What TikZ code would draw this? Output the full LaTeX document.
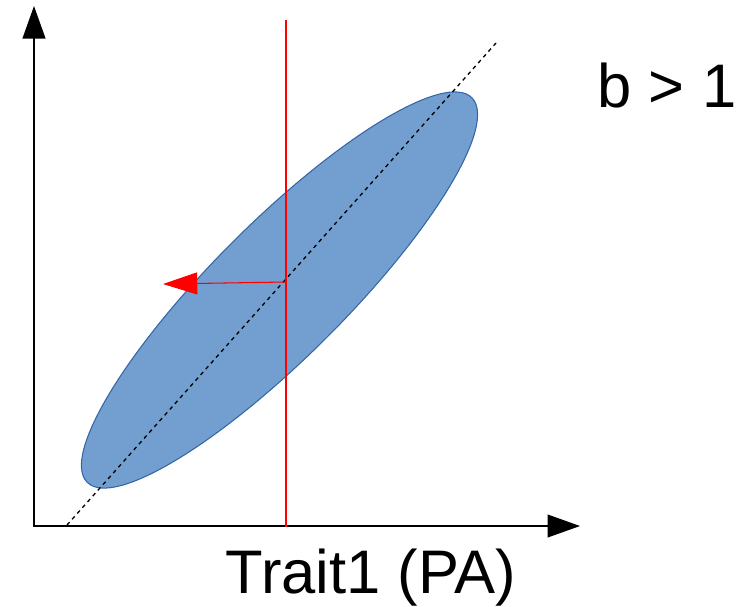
\documentclass[tikz,border=0pt]{standalone}
\usepackage{fontspec}
\setmainfont{Liberation Sans}
\usetikzlibrary{arrows.meta}
\definecolor{ellfill}{RGB}{114,159,207}
\definecolor{elledge}{RGB}{52,101,164}
\begin{document}
\begin{tikzpicture}[x=0.02cm,y=-0.02cm,
  axis/.style={line width=0.8pt,black,-{Triangle[length=18.5pt,width=13pt]}},
  redline/.style={line width=0.6pt,red},
  diag/.style={line width=0.75pt,black,dash pattern=on 2.2pt off 2.2pt},
  lbl/.style={font=\fontsize{35}{42}\selectfont,inner sep=0pt,anchor=base}]
\useasboundingbox (0,0) rectangle (753,606);
% coordinates
\coordinate (origin) at (34,526);
\coordinate (ytip) at (34,6);
\coordinate (xtip) at (580,526);
\coordinate (c) at (279.5,290);
\coordinate (dlo) at (67,525);
\coordinate (dhi) at (496,43);
\coordinate (rtop) at (286,20);
\coordinate (rbot) at (286,527);
\coordinate (rmid) at (286,282);
\coordinate (rtip) at (163,284);
% ellipse
\filldraw[fill=ellfill,draw=elledge,line width=0.6pt,rotate around={45:(c)}]
  (c) ellipse [x radius=5.44cm, y radius=1.34cm];
% diagonal
\draw[diag] (dlo) -- (dhi);
% axes
\draw[axis] (origin) -- (ytip);
\draw[axis] ([xshift=-0.5pt]origin) -- (xtip);
% red lines
\draw[redline] (rtop) -- (rbot);
\draw[redline,-{Triangle[length=19.5pt,width=12.5pt]}] (rmid) -- (rtip);
% labels
\node[lbl] (bgt) at (667,107) {b > 1};
\node[lbl] (xlab) at (371,593) {Trait1 (PA)};
\end{tikzpicture}
\end{document}
